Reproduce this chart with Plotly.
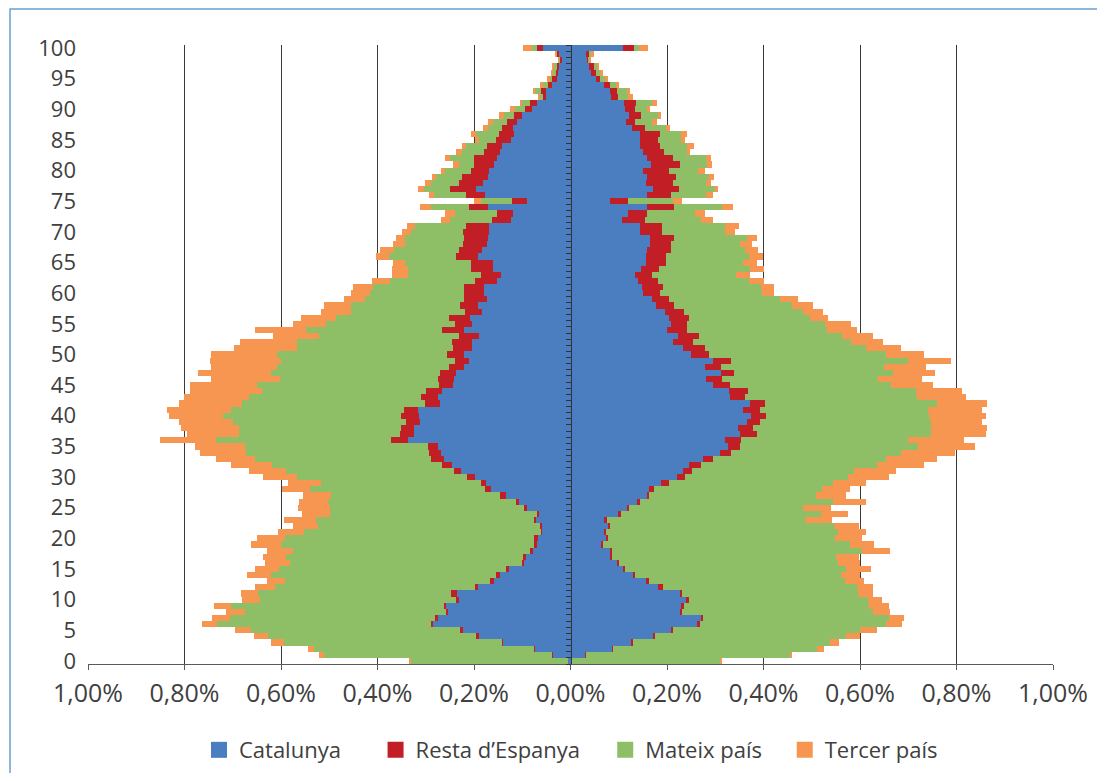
import plotly.graph_objects as go

ages = list(range(101))

# Left half (men). Outer edge of each band in %, age 0..100
left_catalunya = [.006, .037, .075, .140, .191, .223, .285, .274, .255, .259,
                  .233, .235, .192, .159, .147, .129, .097, .094, .079, .071,
                  .068, .061, .061, .073, .066, .091, .108, .133, .165, .176,
                  .197, .227, .246, .262, .269, .274, .336, .325, .325, .311,
                  .313, .316, .270, .274, .267, .244, .241, .238, .221, .210,
                  .220, .205, .205, .190, .220, .205, .209, .184, .191, .173,
                  .180, .179, .152, .145, .161, .161, .191, .184, .173, .170,
                  .169, .169, .124, .119, .171, .091, .178, .195, .181, .171,
                  .169, .159, .153, .146, .142, .123, .117, .119, .111, .101,
                  .080, .069, .050, .050, .039, .029, .027, .024, .019, .024,
                  .057]
left_resta = [.006, .039, .076, .143, .195, .228, .289, .281, .259, .263,
              .237, .248, .197, .166, .154, .133, .101, .098, .083, .075,
              .075, .062, .064, .076, .069, .096, .112, .147, .177, .185,
              .215, .242, .266, .289, .293, .296, .372, .354, .352, .340,
              .352, .346, .302, .310, .299, .273, .275, .271, .251, .239,
              .257, .244, .245, .231, .266, .239, .251, .219, .228, .221,
              .220, .221, .198, .185, .206, .206, .238, .232, .222, .220,
              .222, .216, .163, .153, .211, .122, .216, .250, .232, .225,
              .207, .200, .200, .180, .174, .155, .149, .141, .131, .117,
              .095, .084, .057, .061, .047, .039, .030, .028, .022, .029,
              .069]
left_mateix = [.332, .511, .531, .594, .626, .662, .732, .706, .675, .703,
               .644, .648, .612, .592, .620, .605, .581, .590, .576, .599,
               .591, .552, .523, .527, .498, .498, .502, .496, .540, .518,
               .566, .590, .619, .653, .673, .674, .735, .688, .688, .700,
               .721, .703, .681, .667, .639, .649, .602, .620, .609, .599,
               .609, .566, .566, .522, .549, .507, .487, .454, .454, .425,
               .415, .410, .375, .336, .336, .343, .376, .366, .344, .343,
               .330, .322, .250, .240, .289, .185, .282, .304, .289, .278,
               .261, .232, .249, .225, .217, .189, .196, .170, .160, .137,
               .115, .101, .065, .075, .057, .044, .037, .035, .024, .029,
               .080]
left_tercer = [.335, .522, .544, .620, .656, .695, .763, .742, .714, .738,
               .680, .682, .653, .630, .670, .653, .633, .638, .630, .662,
               .650, .606, .576, .594, .556, .565, .563, .555, .598, .585,
               .638, .667, .704, .735, .768, .779, .851, .794, .808, .812,
               .833, .836, .812, .801, .789, .789, .745, .771, .745, .747,
               .745, .698, .685, .617, .653, .576, .558, .518, .511, .469,
               .455, .451, .411, .370, .370, .367, .403, .394, .368, .361,
               .350, .339, .269, .260, .311, .199, .293, .316, .301, .287,
               .269, .243, .260, .238, .225, .198, .207, .181, .171, .148,
               .126, .105, .068, .077, .064, .048, .040, .037, .025, .031,
               .098]

# Right half (women), same reading
right_catalunya = [.003, .031, .086, .126, .172, .209, .262, .272, .226, .231,
                   .241, .226, .181, .157, .129, .109, .097, .081, .083, .064,
                   .075, .070, .078, .070, .099, .117, .138, .158, .163, .188,
                   .220, .234, .246, .275, .310, .326, .321, .351, .348, .366,
                   .374, .358, .372, .330, .328, .296, .281, .312, .278, .296,
                   .250, .234, .213, .223, .201, .209, .205, .195, .177, .168,
                   .151, .148, .140, .133, .147, .157, .157, .158, .165, .165,
                   .143, .143, .106, .119, .159, .081, .159, .172, .157, .158,
                   .150, .167, .159, .151, .143, .143, .143, .128, .115, .122,
                   .112, .110, .083, .081, .070, .052, .043, .038, .036, .034,
                   .108]
right_resta = [.004, .033, .088, .129, .175, .212, .268, .275, .231, .235,
               .245, .231, .191, .163, .134, .113, .100, .086, .086, .067,
               .077, .073, .082, .075, .104, .122, .143, .163, .174, .205,
               .238, .252, .271, .296, .332, .352, .354, .386, .379, .392,
               .406, .392, .403, .362, .368, .330, .315, .339, .311, .333,
               .288, .278, .253, .267, .242, .242, .246, .236, .215, .205,
               .186, .191, .181, .168, .184, .197, .197, .209, .209, .215,
               .190, .190, .154, .158, .215, .119, .208, .224, .212, .219,
               .205, .227, .212, .194, .186, .181, .186, .155, .134, .146,
               .134, .136, .098, .096, .082, .061, .053, .048, .038, .038,
               .132]
right_mateix = [.310, .455, .511, .537, .571, .601, .653, .660, .626, .619,
                .617, .595, .593, .569, .561, .570, .554, .550, .604, .579,
                .548, .555, .547, .486, .519, .481, .543, .508, .522, .544,
                .576, .588, .635, .653, .685, .721, .700, .747, .747, .747,
                .744, .741, .759, .719, .717, .664, .637, .668, .649, .699,
                .653, .612, .581, .563, .532, .528, .496, .482, .459, .434,
                .397, .395, .369, .343, .373, .358, .369, .361, .351, .365,
                .320, .321, .270, .257, .314, .212, .281, .299, .281, .288,
                .264, .282, .281, .241, .241, .229, .229, .198, .168, .181,
                .158, .168, .119, .117, .096, .072, .061, .054, .040, .043,
                .141]
right_tercer = [.312, .459, .526, .557, .600, .635, .686, .692, .663, .660,
                .645, .627, .627, .608, .600, .622, .601, .597, .663, .629,
                .604, .613, .598, .541, .575, .539, .613, .570, .580, .613,
                .660, .674, .732, .759, .797, .838, .816, .862, .863, .853,
                .862, .853, .863, .819, .812, .752, .729, .755, .736, .788,
                .732, .685, .648, .627, .593, .581, .533, .523, .503, .471,
                .422, .422, .400, .371, .400, .387, .399, .388, .376, .386,
                .341, .350, .296, .279, .336, .232, .296, .306, .292, .298,
                .279, .294, .292, .248, .256, .238, .241, .206, .179, .188,
                .165, .179, .129, .123, .100, .077, .067, .059, .042, .048,
                .160]

categories = ["Catalunya", "Resta d’Espanya", "Mateix país", "Tercer país"]
colors = ["#4A7EC1", "#C11E26", "#8EBE66", "#F79650"]

tick_vals = [-1, -0.8, -0.6, -0.4, -0.2, 0, 0.2, 0.4, 0.6, 0.8, 1]
tick_text = ["1,00%", "0,80%", "0,60%", "0,40%", "0,20%", "0,00%",
             "0,20%", "0,40%", "0,60%", "0,80%", "1,00%"]
age_ticks = list(range(0, 101, 5))

FONT = "Open Sans"
TEXT = "#404040"


def bands(edges):
    """Cumulative edges -> width of each stacked band."""
    out = [edges[0]]
    for inner, outer in zip(edges, edges[1:]):
        out.append([max(o - i, 0) for i, o in zip(inner, outer)])
    return out


left = bands([left_catalunya, left_resta, left_mateix, left_tercer])
right = bands([right_catalunya, right_resta, right_mateix, right_tercer])

fig = go.Figure()
for name, color, lv, rv in zip(categories, colors, left, right):
    fig.add_trace(go.Bar(y=ages, x=[-v for v in lv], orientation="h", name=name,
                         marker=dict(color=color, line=dict(width=0)),
                         showlegend=False))
    fig.add_trace(go.Bar(y=ages, x=rv, orientation="h", name=name,
                         marker=dict(color=color, line=dict(width=0)),
                         showlegend=False))

# one legend per entry so the spacing can follow the original
legend_x = [0.115, 0.298, 0.536, 0.722]
for i, (name, color) in enumerate(zip(categories, colors)):
    lg = "legend" if i == 0 else "legend%d" % (i + 1)
    fig.add_trace(go.Scatter(x=[None], y=[None], mode="markers", name=name,
                             marker=dict(symbol="square", size=16, color=color),
                             legend=lg))

legend_style = dict(orientation="h", y=-0.139, yanchor="middle", xanchor="left",
                    bgcolor="rgba(0,0,0,0)", borderwidth=0,
                    font=dict(family=FONT, size=22, color=TEXT))
legends = {}
for i, lx in enumerate(legend_x):
    key = "legend" if i == 0 else "legend%d" % (i + 1)
    legends[key] = dict(legend_style, x=lx)

# page body has an 8px margin, so the figure is 16px smaller than the window
fig.update_layout(
    width=1089, height=765,
    margin=dict(l=80, r=44, t=37, b=109, autoexpand=False),
    paper_bgcolor="white", plot_bgcolor="white",
    barmode="relative", bargap=0,
    font=dict(family=FONT, size=22, color=TEXT),
    xaxis=dict(range=[-1, 1], tickvals=tick_vals, ticktext=tick_text,
               showgrid=True, gridcolor="#3a3a3a", gridwidth=1,
               zeroline=False, showline=True, linecolor="#595959", linewidth=1,
               ticks="outside", ticklen=5, tickcolor="#595959",
               ticklabelstandoff=2,
               tickfont=dict(family=FONT, size=25, color=TEXT)),
    yaxis=dict(range=[-0.5, 100.5], tickvals=age_ticks, showgrid=False,
               zeroline=False, showline=False, ticks="", ticklabelstandoff=11,
               tickfont=dict(family=FONT, size=22, color=TEXT)),
    yaxis2=dict(range=[-0.5, 100.5], overlaying="y", anchor="free", position=0.5,
                tickvals=[a + 0.5 for a in range(-1, 101)], showticklabels=False,
                ticks="outside", ticklen=5, tickcolor="#333333",
                showline=True, linecolor="#333333", linewidth=1,
                showgrid=False, zeroline=False),
    shapes=[
        dict(type="rect", xref="paper", yref="paper",
             x0=-0.0808, x1=1.2, y0=1.058, y1=-0.3,
             line=dict(color="#6A9FD4", width=1.5), fillcolor="rgba(0,0,0,0)"),
    ],
    **legends,
)

# dummy trace so the centre axis is drawn
fig.add_trace(go.Scatter(x=[None], y=[None], yaxis="y2", showlegend=False))

fig.write_html("out.html")
